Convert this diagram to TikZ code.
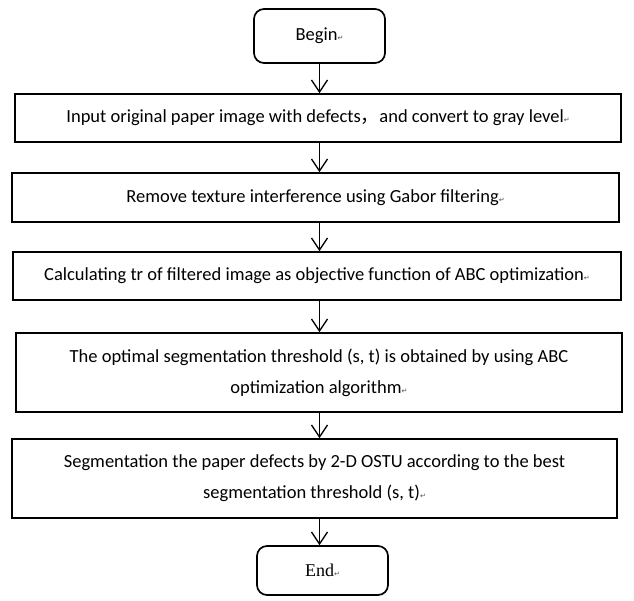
\documentclass[tikz,border=0pt]{standalone}
\usepackage{fontspec}
\setmainfont{Carlito}
\newfontfamily\cjk{Noto Sans CJK SC}
\newfontfamily\endfont{Liberation Serif}
\newfontfamily\symfont{DejaVu Sans}
\usetikzlibrary{arrows.meta}
\newcommand{\pmark}{{\symfont\fontsize{7}{7}\selectfont\color{black!70}↵}}
\tikzset{
  stepbox/.style={draw, line width=1.7pt, align=center, inner sep=0pt,
    font=\fontsize{18.5}{31}\selectfont},
  termbox/.style={stepbox, rounded corners=10pt},
  arr/.style={line width=1.3pt, -{Straight Barb[length=12pt,width=16pt,line width=1.3pt]}}
}
\begin{document}
\begin{tikzpicture}[x=1pt,y=-1pt]
  \useasboundingbox (0,0) rectangle (634,601);
  \node[termbox, minimum width=131pt, minimum height=54pt] (begin) at (319.5,36) {Begin\pmark};
  \node[stepbox, minimum width=606pt, minimum height=48pt] (input) at (318,118)
    {Input original paper image with defects{\cjk ，}and convert to gray level\pmark};
  \node[stepbox, minimum width=607pt, minimum height=49pt] (gabor) at (315.5,197.5)
    {Remove texture interference using Gabor filtering\pmark};
  \node[stepbox, minimum width=608pt, minimum height=48pt] (objfun) at (317,276)
    {Calculating tr of filtered image as objective function of ABC optimization\pmark};
  \node[stepbox, minimum width=606pt, minimum height=79pt] (abc) at (319,372.5)
    {The optimal segmentation threshold (s, t) is obtained by using ABC\\
     optimization algorithm\pmark};
  \node[stepbox, minimum width=605pt, minimum height=79pt] (otsu) at (314.5,478.5)
    {Segmentation the paper defects by 2-D OSTU according to the best\\
     segmentation threshold (s, t)\pmark};
  \node[termbox, minimum width=131pt, minimum height=49pt, font=\endfont\fontsize{18}{20}\selectfont] (end) at (322.5,570.5) {End\pmark};
  % connectors
  \draw[arr] (begin.south) -- (begin.south |- input.north);
  \draw[arr] (begin.south |- input.south) -- (begin.south |- gabor.north);
  \draw[arr] (begin.south |- gabor.south) -- (begin.south |- objfun.north);
  \draw[arr] (begin.south |- objfun.south) -- (begin.south |- abc.north);
  \draw[arr] (begin.south |- abc.south) -- (begin.south |- otsu.north);
  \draw[arr] (begin.south |- otsu.south) -- (begin.south |- end.north);
\end{tikzpicture}
\end{document}
